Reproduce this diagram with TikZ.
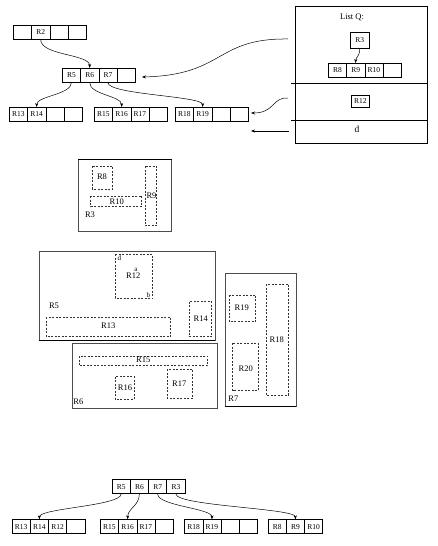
\documentclass[tikz,border=0pt]{standalone}
\usepackage{fontspec}
\setmainfont{Liberation Serif}
\usetikzlibrary{arrows.meta}
\tikzset{
  cell/.style={draw, line width=0.6pt, minimum width=18.25pt, minimum height=14pt,
    inner sep=0pt, anchor=north west, font=\fontsize{7.5}{8}\selectfont},
  link/.style={-{Stealth[length=4pt,width=3pt]}, line width=0.5pt},
  mbr/.style={draw=black!70, line width=0.6pt},
  sub/.style={draw=black!80, dash pattern=on 2pt off 1.5pt, line width=0.5pt},
  lbl/.style={inner sep=0pt, font=\fontsize{8.5}{9}\selectfont},
}
\begin{document}
\begin{tikzpicture}[x=1pt,y=-1pt]
\useasboundingbox (0,0) rectangle (437,546);
% records of the two trees
\foreach \nm/\xo/\yo/\cells in {%
    r2/13/25/{~,R2,~,~},%
    nr/62/68/{R5,R6,R7,~},%
    la/9/107/{R13,R14,~,~},%
    lb/94/107/{R15,R16,R17,~},%
    lc/175/107/{R18,R19,~,~},%
    q/328/63/{R8,R9,R10,~},%
    br/111.7/479.3/{R5,R6,R7,R3},%
    ba/11.7/519.3/{R13,R14,R12,~},%
    bb/100/519.3/{R15,R16,R17,~},%
    bc/184.3/519.3/{R18,R19,~,~},%
    bd/267.7/519.3/{R8,R9,R10}}{
  \foreach \t [count=\i] in \cells {
    \node[cell] (\nm-\i) at ({\xo+(\i-1)*18.25},\yo) {\t};
  }
}
% list Q panel
\draw[line width=0.7pt] (295,6) rectangle (427,143);
\draw[line width=0.9pt] (291,83) -- (427,83);
\draw[line width=0.5pt] (291,120) -- (427,120);
\node[lbl] (qtitle) at (352,17) {List Q:};
\node[cell, minimum width=19pt, minimum height=16pt] (qr3) at (350,32) {R3};
\node[cell, minimum width=18pt, minimum height=12pt] (qr12) at (351,95) {R12};
\node[lbl, font=\fontsize{9.5}{10}\selectfont] (qd) at (357,129) {d};
\draw[link] (qr3.south) .. controls +(0,8) and +(0,-6) .. (q-2.north);
% tree arrows
\draw[link] (r2-2.south) .. controls +(0,16) and +(0,-14) .. (nr-2.north);
\foreach \a/\b in {nr-1/la-2, nr-2/lb-2, nr-3/lc-2, br-1/ba-2, br-2/bb-2, br-3/bc-2, br-4/bd-2}
  \draw[link] (\a.south) .. controls +(0,12) and +(0,-11) .. (\b.north);
% from the panel back to the tree
\coordinate (s1) at (288,39);
\coordinate (t1) at (142,77);
\coordinate (s2) at (288,98);
\coordinate (t2) at (251,113);
\coordinate (s3) at (289,131);
\coordinate (t3) at (251,131);
\draw[link] (s1) .. controls (215,38) and (225,75) .. (t1);
\draw[link] (s2) .. controls (272,97) and (275,113) .. (t2);
\draw[link] (s3) -- (t3);
% bounding rectangles
\draw[mbr] (78.3,159.3) rectangle (171.7,231.7);
\draw[line width=1pt] (78.3,159.3) -- (171.7,159.3);
\draw[mbr] (39.3,251.7) rectangle (215,340);
\draw[line width=1pt] (39.3,340) -- (215,340);
\draw[mbr] (72.7,343.3) rectangle (217.3,408.3);
\draw[mbr] (225,273.3) rectangle (296,406.7);
\draw[line width=1pt] (225,406.7) -- (296,406.7);
\foreach \x/\y/\X/\Y in {92.7/166/112.7/189, 90.7/196/141.7/206.7, 145/166/156.7/225.7,
    115/254.3/152.7/298.3, 46/317.3/170.7/336.7, 189.3/301.7/211.7/336.7,
    79/356/207.7/365.7, 115/376.7/134.3/399.3, 167.3/369.3/192.7/398.3,
    229.3/295/255.7/321.7, 232.7/343.3/258.3/390.7, 266/284/288.3/395}
  \draw[sub] (\x,\y) rectangle (\X,\Y);
\foreach \nm/\x/\y/\t in {m8/102/177/R8, m10/116.7/201.7/R10, m9/151.5/196/R9, m3/90/215/R3,
    m12/133.3/276/R12, m5/54/305.7/R5, m13/108.3/326/R13, m14/200.7/319/R14,
    m15/143.3/360/R15, m16/125/387.3/R16, m17/179.3/383.3/R17, m6/78.3/401.7/R6,
    m19/241.7/307.3/R19, m20/245.7/368.3/R20, m18/276.7/340/R18, m7/233.3/398.3/R7}
  \node[lbl] (\nm) at (\x,\y) {\t};
\node[lbl, font=\fontsize{7}{8}\selectfont] (cd) at (119.3,258.3) {d};
\node[lbl, font=\fontsize{7}{8}\selectfont] (ca) at (136,270) {a};
\node[lbl, font=\fontsize{7}{8}\selectfont] (cb) at (148.3,295) {b};
\end{tikzpicture}
\end{document}
